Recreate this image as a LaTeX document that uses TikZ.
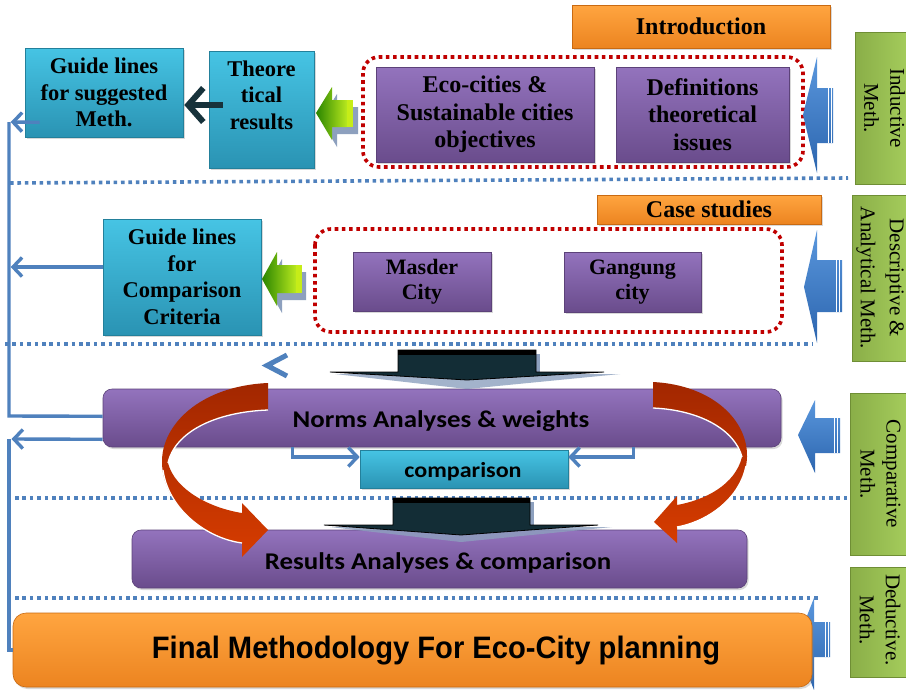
\documentclass[tikz,border=0pt]{standalone}
\usepackage{fontspec}
\setmainfont{Liberation Serif}
\newfontfamily\calibrif[FakeStretch=1.12]{Carlito}
\newfontfamily\arialf[FakeStretch=0.94]{Liberation Sans}
\usetikzlibrary{arrows.meta,shadows,calc}

\definecolor{cyanT}{HTML}{46C4E4}
\definecolor{cyanB}{HTML}{2A93B3}
\definecolor{cyanD}{HTML}{23809B}
\definecolor{purT}{HTML}{9373BD}
\definecolor{purB}{HTML}{6A4C8C}
\definecolor{purD}{HTML}{5C4279}
\definecolor{orT}{HTML}{FFA540}
\definecolor{orB}{HTML}{EC8420}
\definecolor{orD}{HTML}{C96A12}
\definecolor{grL}{HTML}{8AAE48}
\definecolor{grR}{HTML}{A8D05E}
\definecolor{grD}{HTML}{6F8E35}
\definecolor{lineblue}{HTML}{4F81BD}
\definecolor{dotred}{HTML}{C00000}
\definecolor{darkteal}{HTML}{132D36}
\definecolor{darkarr}{HTML}{17323B}
\definecolor{redT}{HTML}{A22700}
\definecolor{redB}{HTML}{D63C00}
\definecolor{bluT}{HTML}{5A97DD}
\definecolor{bluB}{HTML}{2C65AE}
\definecolor{gaL}{HTML}{2A8500}
\definecolor{gaR}{HTML}{B8E81E}
\definecolor{gshadow}{HTML}{8DA0BE}

\newcommand\myG{\fontsize{22.5}{26.5}\selectfont\bfseries}
\newcommand\myP{\fontsize{24}{27.5}\selectfont\bfseries}
\newcommand\myM{\fontsize{22}{25}\selectfont\bfseries}
\newcommand\myH{\fontsize{24}{28}\selectfont\bfseries}
\newcommand\myC{\calibrif\bfseries\fontsize{24}{28}\selectfont}
\newcommand\myCs{\calibrif\bfseries\fontsize{21.5}{26}\selectfont}
\newcommand\myF{\arialf\bfseries\fontsize{31}{36}\selectfont}
\newcommand\myR{\fontsize{21}{26}\selectfont}

\tikzset{
  boxbase/.style={rectangle, inner sep=0pt, align=center, line width=0.6pt,
    drop shadow={opacity=0.3, shadow xshift=1.5pt, shadow yshift=-2pt}},
  cyanbox/.style={boxbase, draw=cyanD, top color=cyanT, bottom color=cyanB},
  purbox/.style={boxbase, draw=purD, top color=purT, bottom color=purB},
  orbox/.style={boxbase, draw=orD, top color=orT, bottom color=orB},
  greenbox/.style={draw=grD, line width=0.6pt, left color=grL, right color=grR},
  gtext/.style={rotate=-90, align=center, font=\myR, inner sep=0pt},
  dotline/.style={draw=lineblue, line width=3.6pt, dash pattern=on 3.6pt off 3.8pt},
  reddot/.style={draw=dotred, line width=3.6pt, dash pattern=on 3.6pt off 3.6pt, rounded corners=16pt},
  conn/.style={draw=lineblue, line width=3.4pt},
  barb/.style={-{Straight Barb[length=9pt,width=19pt,line width=3.4pt]}},
  darkconn/.style={draw=darkarr, line width=6pt, -{Straight Barb[length=15pt,width=34pt,line width=6pt]}},
  txt/.style={inner sep=0pt, align=center},
}

\begin{document}
\begin{tikzpicture}[x=1pt,y=-1pt]
\useasboundingbox (0,0) rectangle (906,689);
\fill[white] (0,0) rectangle (906,689);

% ---------- dotted separators ----------
\draw[dotline] (10,183) -- (848,178);
\draw[dotline] (5,344) -- (813,344);
\draw[dotline] (15,498) -- (850,498);
\draw[dotline] (15,598) -- (818,598);

% ---------- green method boxes ----------
\draw[greenbox] (855,32) rectangle (915,184);
\node[gtext] (g1t) at (884.5,108) {Inductive\\Meth.};
\draw[greenbox] (852,195) rectangle (915,361);
\node[gtext, font=\fontsize{21}{29}\selectfont] (g2t) at (880,278) {Descriptive \&\\Analytical Meth.};
\draw[greenbox] (850,393) rectangle (915,555);
\node[gtext] (g3t) at (880.5,474) {Comparative\\Meth.};
\draw[greenbox] (850,567) rectangle (915,677);
\node[gtext] (g4t) at (880,620) {Deductive.\\Meth.};

% ---------- top section ----------
\node[orbox, minimum width=258, minimum height=43, font=\myH] (intro) at (701,26.5) {Introduction};
\draw[reddot] (363,57) rectangle (803,167);
\node[purbox, minimum width=218, minimum height=95, font=\myP] (eco) at (485,114.5) {Eco-cities \&\\Sustainable cities\\objectives};
\node[purbox, minimum width=173, minimum height=95, font=\myP] (defs) at (702.5,114.5) {Definitions\\theoretical\\issues};
\node[cyanbox, minimum width=105, minimum height=117] (theo) at (261.5,109.5) {};
\node[txt, font=\myG] (theotxt) at (261.5,95) {Theore\\tical\\results};
\node[cyanbox, minimum width=158, minimum height=89, font=\myG] (guide1) at (104,92.5) {Guide lines\\for suggested\\Meth.};

% ---------- case studies section ----------
\node[orbox, minimum width=224, minimum height=29, font=\myH] (cases) at (709,209.5) {Case studies};
\draw[reddot] (315,229) rectangle (782,332);
\node[purbox, minimum width=138, minimum height=59, font=\myM] (masder) at (422,281.5) {Masder\\City};
\node[purbox, minimum width=137, minimum height=60, font=\myM] (gang) at (632.5,282) {Gangung\\city};
\node[cyanbox, minimum width=158, minimum height=116, font=\myG] (guide2) at (182,277) {Guide lines\\for\\Comparison\\Criteria};

% ---------- left connectors ----------
\coordinate (v1) at (9,122);
\coordinate (v2) at (9,267);
\coordinate (v3) at (9,439);
\node[purbox, rounded corners=9pt, minimum width=678, minimum height=58] (norms) at (442,418) {};
\draw[conn] ($(norms.south west)+(0,-31)$) -- (9,416) -- (v1);
\draw[conn, barb] ($(guide1.south west)+(15,-15)$) -- ($(v1)+(1.7,0)$);
\draw[conn, barb] ($(guide2.west)+(0,-10)$) -- ($(v2)+(1.7,0)$);
\draw[conn, barb] ($(norms.south west)+(0,-8)$) -- ($(v3)+(2.5,0)$);

% ---------- comparison ----------
\node[cyanbox, minimum width=208, minimum height=38] (comp) at (464,469) {};
\node[txt, font=\myCs, anchor=base] (comptxt) at (463,477) {comparison};
\draw[conn, barb] ($(norms.south west)+(190,0)$) |- ($(comp.west)+(0,-12)$);
\draw[conn, barb] ($(norms.south west)+(531,0)$) |- ($(comp.east)+(0,-12)$);
\node[txt, font=\myC, anchor=base] (normstxt) at (441,427) {Norms Analyses \& weights};

% ---------- results ----------
\node[purbox, rounded corners=9pt, minimum width=615, minimum height=58] (results) at (439.5,559) {};
\node[txt, font=\myC, anchor=base] (restxt) at (438,569) {Results Analyses \& comparison};

% ---------- final ----------
\shade[top color=bluT, bottom color=bluB] (796,644) -- (814,598) -- (814,622) -- (830,622) -- (830,657) -- (814,657) -- (814,690) -- cycle;
\draw[white, line width=0.8pt] (825,622) -- (825,657) (828,622) -- (828,657);
\node[orbox, rounded corners=13pt, minimum width=799, minimum height=74] (final) at (412.5,650) {};
\node[txt, font=\myF, anchor=base] (finaltxt) at (436,658) {Final Methodology For Eco-City planning};
\draw[conn] (v3) |- (final.west);

% ---------- chevron ----------
\draw[lineblue, line width=5pt, line join=miter] (287,355) -- (267,365.5) -- (287,376);

% ---------- theoretical -> guide ----------
\draw[darkconn] ($(theo.west)+(14,-4.5)$) -- ($(guide1.east)+(1,12.5)$);

% ---------- green block arrows ----------
\fill[gshadow] (321,120) -- (337,94) -- (337,107) -- (358,107) -- (358,134) -- (337,134) -- (337,147) -- cycle;
\shade[left color=gaL, right color=gaR] (316,113) -- (332,87) -- (332,100) -- (347,100) -- (347,127) -- (332,127) -- (332,140) -- cycle;
\fill[gaR!80!yellow] (347,100) rectangle (353,127);
\fill[gshadow] (267,286) -- (282,259) -- (282,272) -- (306,272) -- (306,300) -- (282,300) -- (282,313) -- cycle;
\shade[left color=gaL, right color=gaR] (262,279) -- (277,252) -- (277,265) -- (296,265) -- (296,293) -- (277,293) -- (277,306) -- cycle;
\fill[gaR!80!yellow] (296,265) rectangle (302,293);

% ---------- blue block arrows (right) ----------
\shade[top color=bluT, bottom color=bluB] (803,115) -- (817,57) -- (817,88) -- (833,88) -- (833,143) -- (817,143) -- (817,173) -- cycle;
\draw[white, line width=0.8pt] (828,88) -- (828,143) (831,88) -- (831,143);
\shade[top color=bluT, bottom color=bluB] (804,287) -- (817,230) -- (817,260) -- (842,260) -- (842,312) -- (817,312) -- (817,343) -- cycle;
\draw[white, line width=0.8pt] (836,260) -- (836,312) (839,260) -- (839,312);
\shade[top color=bluT, bottom color=bluB] (798,435) -- (815,400) -- (815,418) -- (840,418) -- (840,453) -- (815,453) -- (815,473) -- cycle;
\draw[white, line width=0.8pt] (834,418) -- (834,453) (837,418) -- (837,453);

% ---------- dark down arrows ----------
\fill[gshadow, opacity=0.8] (335,374) -- (620,374) -- (467,389) -- cycle;
\fill[gshadow] (536,354) rectangle (540,372);
\filldraw[fill=darkteal, draw=black, line width=0.8pt] (398,350) -- (536,350) -- (536,372) -- (604,372) -- (467,380) -- (330,372) -- (398,372) -- cycle;
\fill[black] (398,350) rectangle (536,355);
\fill[gshadow, opacity=0.8] (330,527) -- (612,527) -- (461,542) -- cycle;
\fill[gshadow] (530,502) rectangle (534,525);
\filldraw[fill=darkteal, draw=black, line width=0.8pt] (393,498) -- (530,498) -- (530,525) -- (598,525) -- (461,535) -- (324,525) -- (393,525) -- cycle;
\fill[black] (393,498) rectangle (530,503);

% ---------- red curved arrows ----------
\shade[top color=redT, bottom color=redB]
  (268,383) .. controls (200,386) and (161,425) .. (162,463)
  .. controls (163,505) and (205,538) .. (242,543)
  -- (242,557) -- (268,530) -- (242,503) -- (242,513)
  .. controls (210,508) and (175,490) .. (168,463)
  .. controls (175,432) and (215,412) .. (268,410) -- cycle;
\draw[white, line width=1.3pt] (268,410) .. controls (215,412) and (175,432) .. (168,463);
\draw[white, line width=1.3pt] (163,470) .. controls (168,508) and (205,538) .. (242,543);
\shade[top color=redT, bottom color=redB]
  (653,382) .. controls (712,385) and (748,420) .. (747,457)
  .. controls (746,492) and (712,520) .. (677,527)
  -- (677,543) -- (654,522) -- (677,496) -- (677,505)
  .. controls (705,500) and (735,485) .. (742,457)
  .. controls (735,430) and (700,410) .. (653,408) -- cycle;
\draw[white, line width=1.3pt] (653,408) .. controls (700,410) and (735,430) .. (742,457);
\draw[white, line width=1.3pt] (746,466) .. controls (740,497) and (710,521) .. (677,527);
\end{tikzpicture}
\end{document}
